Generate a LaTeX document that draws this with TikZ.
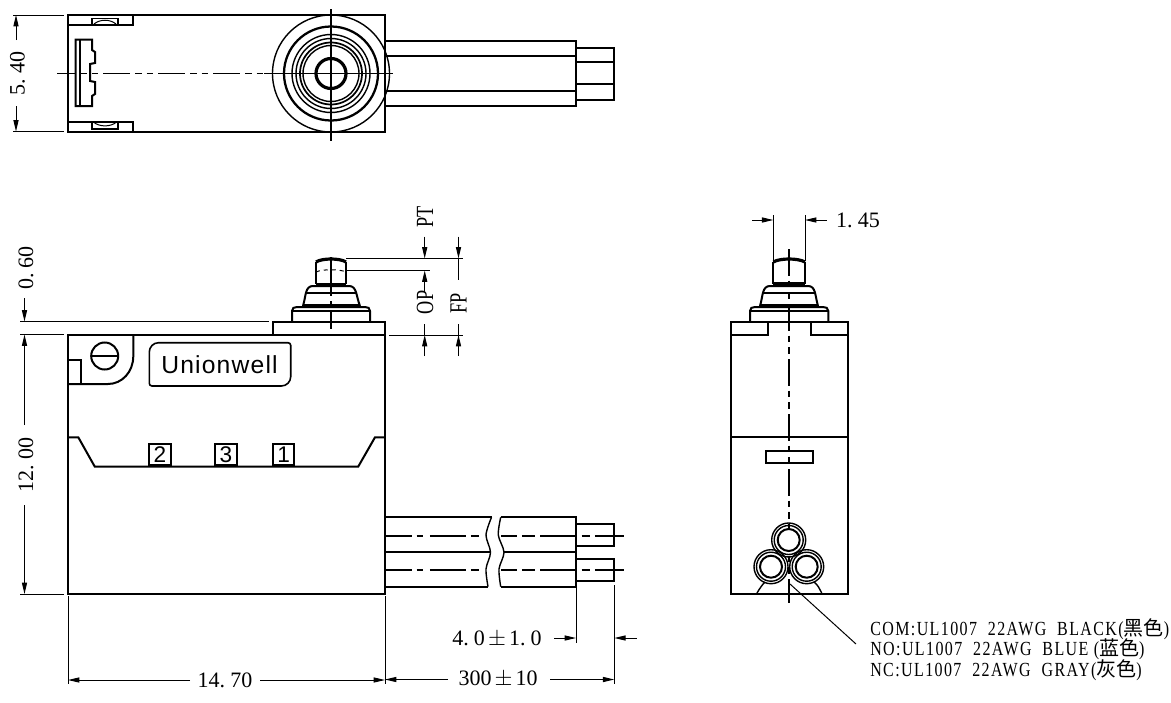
\documentclass[tikz,border=0pt]{standalone}
\usepackage{fontspec}
\usepackage{tikz}
\usetikzlibrary{arrows.meta}
\newfontfamily\dimfont{Liberation Serif}
\newfontfamily\narrowfont[FakeStretch=0.74]{Liberation Serif}
\newfontfamily\wirefont[FakeStretch=0.8,LetterSpace=7]{Liberation Serif}
\newfontfamily\logofont[LetterSpace=4.8]{Liberation Sans}
\setsansfont{Liberation Sans}
\newfontfamily\cjkfont{Noto Sans CJK SC}
\newcommand{\widepm}{\makebox[18pt]{$\pm$}}
\newcommand{\gapdot}{.\kern3.9pt}
\newcommand{\wirerow}[2]{#1{\cjkfont #2})}
\tikzset{
  part/.style={draw=black, line width=1.5pt},
  thinpart/.style={draw=black, line width=1.05pt},
  heavy/.style={draw=black, line width=2.4pt},
  dimline/.style={draw=black, line width=0.75pt},
  dimarrow/.style={dimline, -{Triangle[length=8.5pt,width=3.8pt]}},
  centerline/.style={draw=black, line width=1.35pt, dash pattern=on 20pt off 3.75pt on 5pt off 3.75pt on 5pt off 3.75pt},
  wireleft/.style={centerline, dash pattern=on 20pt off 3.7pt on 5pt off 5pt on 27pt off 3.7pt on 6pt off 20pt},
  wireright/.style={centerline, dash pattern=on 12pt off 3.7pt on 10pt off 3.7pt on 26pt off 5pt on 6pt off 4pt on 22pt off 20pt},
  dimtext/.style={inner sep=0pt, font=\fontsize{16.5}{16.5}\selectfont\dimfont},
  tagtext/.style={inner sep=0pt, font=\fontsize{18.5}{18.5}\selectfont\narrowfont},
  wiretext/.style={inner sep=0pt, anchor=west, font=\fontsize{15}{15}\selectfont\wirefont},
  numbox/.style={part, shape=rectangle, minimum size=16pt, inner sep=0pt, font=\fontsize{17}{17}\selectfont\sffamily}
}
\begin{document}
\begin{tikzpicture}[x=0.75pt,y=-0.75pt]
  \useasboundingbox (0,0) rectangle (1171,703);

  \draw[part] (68,15) rectangle (385,131.5);
  \draw[part] (68,25) -- (133,25) -- (133,15);
  \draw[part] (68,122) -- (133,122) -- (133,131.5);
  \draw[thinpart] (92,18.5) rectangle (118,24.5);
  \draw[thinpart] (92,122) rectangle (118,129);
  \draw[dimline] (94,24) .. controls (100,19) and (110,19) .. (116,24);
  \draw[dimline] (94,122.5) .. controls (100,127) and (110,127) .. (116,122.5);
  \draw[part] (75.5,39.5) -- (92,39.5) -- (92,50) -- (95,52) -- (95,63) -- (90,64) -- (90,81)
     -- (95,82) -- (95,94) -- (92,96) -- (92,106) -- (75.5,106) -- cycle;
  \draw[thinpart] (80,39.5) -- (80,106);
  \foreach \rad/\wd in {58.5/1.05pt, 47/1.7pt, 39/1.05pt, 35/1.05pt, 31/1.3pt, 28/1.05pt}
    \draw[draw=black,line width=\wd] (331,73.5) circle (\rad);
  \draw[heavy] (331,73.5) circle (15);
  \draw[centerline,dash phase=6.5pt] (57,73.5) -- (272,73.5);
  \draw[part,line width=1.3pt] (264,73.5) -- (393,73.5);
  \draw[part,line width=1.3pt] (331,9) -- (331,141);
  \draw[part] (385,40.7) -- (576,40.7) -- (576,105.7) -- (385,105.7);
  \draw[part] (385,55.7) -- (576,55.7);
  \draw[part] (385,90.7) -- (576,90.7);
  \draw[part] (576,47.7) -- (614,47.7) -- (614,99.7) -- (576,99.7);
  \draw[part] (576,61.7) -- (614,61.7);
  \draw[part] (576,84) -- (614,84);

  \draw[dimline] (13,15) -- (64,15);
  \draw[dimline] (13,131.5) -- (64,131.5);
  \draw[dimarrow] (16,40) -- (16,15);
  \draw[dimarrow] (16,106) -- (16,131.5);
  \path (17.5,73.5) node [dimtext,rotate=90] (dimwidth) {5\gapdot40};

  \draw[part] (68,334.5) rectangle (385,594);
  \draw[part] (272.7,334.5) -- (272.7,321.7) -- (385,321.7) -- (385,334.5);
  \draw[part] (292,321.7) -- (292,311) .. controls (292,308) and (294,307) .. (297,307)
     -- (365,307) .. controls (368,307) and (370,308) .. (370,311) -- (370,321.7);
  \draw[part] (292,311) -- (370,311);
  \draw[heavy] (303,306) -- (360,306);
  \draw[part] (303,306) .. controls (306,296) and (305,286) .. (313,286) -- (349,286)
     .. controls (357,286) and (356,296) .. (360,306);
  \draw[part] (306.7,293) -- (356.7,293);
  \draw[part] (316,262) -- (316,284);
  \draw[part] (346,262) -- (346,284);
  \draw[heavy] (316,284.5) -- (346,284.5);
  \draw[heavy] (316,262) .. controls (322,258) and (340,258) .. (346,262);
  \draw[dimline,dashed] (316,272) .. controls (322,269) and (340,269) .. (346,272);
  \draw[centerline,dash pattern=on 29pt off 4pt on 4.5pt off 4pt on 20pt] (331,257) -- (331,329);

  \draw[part] (133.3,334.5) -- (133.3,356) .. controls (133.3,372) and (122,384) .. (108,384) -- (68,384);
  \draw[part] (68,360) -- (81,360) -- (81,384);
  \draw[part] (104.7,356) circle (13.5);
  \draw[thinpart] (91.2,356) -- (118.2,356);
  \draw[part,line width=1.2pt] (149.3,365) [rounded corners=7pt] -- (149.3,342.7) [rounded corners=2pt] -- (290.7,342.7)
     [rounded corners=7pt] -- (290.7,386) [rounded corners=2pt] -- (149.3,386) -- (149.3,365);
  \path (219.5,364.5) node [inner sep=0pt,font=\fontsize{18.5}{18.5}\selectfont\logofont] (logo) {Unionwell};
  \draw[part] (68,437.3) -- (78.3,437.3) -- (94.7,466.5) -- (358.3,466.5) -- (375,437.3) -- (385,437.3);
  \path (160,454.7) node [numbox] (pintwo) {2}
        (226,454.7) node [numbox] (pinthree) {3}
        (283.7,454.7) node [numbox] (pinone) {1};

  \draw[part] (385,517.3) -- (491.5,517.3);
  \draw[part] (385,552.3) -- (490.5,552.3);
  \draw[part] (385,586.7) -- (488,586.7);
  \draw[part] (500.7,517.3) -- (576,517.3) -- (576,586.7) -- (500.7,586.7);
  \draw[part] (504,552.3) -- (576,552.3);
  \draw[thinpart] plot [smooth] coordinates {(491.5,517.3) (486,535) (490.5,552.3) (486,569) (488,586.7)};
  \draw[thinpart] plot [smooth] coordinates {(500.7,517.3) (498.3,535) (504,552.3) (499,569) (500.7,586.7)};
  \draw[part] (576,524.3) -- (614,524.3) -- (614,545.7) -- (576,545.7);
  \draw[part] (576,559) -- (614,559) -- (614,580.7) -- (576,580.7);
  \foreach \wirey in {535.7,569.7} {
    \draw[wireleft] (385,\wirey) -- (487,\wirey);
    \draw[wireright] (501,\wirey) -- (627,\wirey);
  }

  \draw[dimline] (20,321.5) -- (268.7,321.5);
  \draw[dimline] (20,334.5) -- (64,334.5);
  \draw[dimline] (20,594) -- (64,594);
  \draw[dimarrow] (24.5,298) -- (24.5,321.5);
  \draw[dimarrow] (24.5,425) -- (24.5,334.5);
  \draw[dimarrow] (24.5,505) -- (24.5,594);
  \path (26,268) node [dimtext,rotate=90] (dimtravel) {0\gapdot60}
        (26,465) node [dimtext,rotate=90] (dimheight) {12\gapdot00};

  \draw[dimline] (346,258.5) -- (462.7,258.5);
  \draw[dimline] (346,270.5) -- (430,270.5);
  \draw[dimline] (389,335) -- (462.7,335);
  \draw[dimarrow] (424.7,236.7) -- (424.7,258.5);
  \draw[dimarrow] (424.7,292) -- (424.7,270.5);
  \draw[dimarrow] (424.7,356) -- (424.7,335);
  \draw[dimline] (424.7,324) -- (424.7,335);
  \draw[dimarrow] (458.5,236.7) -- (458.5,258.5);
  \draw[dimline] (458.5,258.5) -- (458.5,280);
  \draw[dimarrow] (458.5,356) -- (458.5,335);
  \draw[dimline] (458.5,324) -- (458.5,335);
  \path (425,217) node [tagtext,rotate=90] (labelpt) {PT}
        (425,302.5) node [tagtext,rotate=90] (labelop) {OP}
        (458.5,303) node [tagtext,rotate=90] (labelfp) {FP};

  \draw[dimline] (68,596) -- (68,684);
  \draw[dimline] (385,596) -- (385,684);
  \draw[dimline] (576,588) -- (576,643);
  \draw[dimline] (614.3,585) -- (614.3,684);
  \draw[dimarrow] (190,680) -- (68,680);
  \draw[dimarrow] (260,680) -- (385,680);
  \draw[dimarrow] (448,679.5) -- (385,679.5);
  \draw[dimarrow] (550,679.5) -- (614.3,679.5);
  \draw[dimarrow] (554,638) -- (576,638);
  \draw[dimarrow] (636.7,638) -- (614.3,638);
  \path (225,680) node [dimtext] (dimlength) {14\gapdot70}
        (498,679.5) node [dimtext] (dimwire) {300\widepm10}
        (497,639) node [dimtext] (dimstrip) {4\gapdot0\widepm1\gapdot0};

  \draw[part] (730.7,321.7) rectangle (847.7,594);
  \draw[draw=white,line width=2pt] (767.7,334.5) rectangle (811,320);
  \draw[part] (730.7,335) -- (767.7,335) -- (767.7,321.7) -- (730.7,321.7);
  \draw[part] (847.7,335) -- (811,335) -- (811,321.7) -- (847.7,321.7);
  \draw[part] (730.7,437.3) -- (847.7,437.3);
  \draw[part] (750,321.7) -- (750,311) .. controls (750,308) and (752,307) .. (755,307)
     -- (823,307) .. controls (826,307) and (828.3,308) .. (828.3,311) -- (828.3,321.7);
  \draw[part] (750,311) -- (828.3,311);
  \draw[heavy] (760,306) -- (818,306);
  \draw[part] (760,306) .. controls (763,296) and (762,286) .. (770,286) -- (808,286)
     .. controls (816,286) and (815,296) .. (818,306);
  \draw[part] (764,293.3) -- (814,293.3);
  \draw[part] (773.3,262) -- (773.3,284);
  \draw[part] (805,262) -- (805,284);
  \draw[heavy] (773.3,284) -- (805,284);
  \draw[heavy] (773.3,262) .. controls (780,258) and (798,258) .. (805,262);
  \draw[part] (765.7,450.7) rectangle (813.3,463.3);
  \draw[centerline] (788.7,249) -- (788.7,603);
  \foreach \wirex/\wirey in {788.7/540, 771/566.7, 806.7/566.7} {
    \draw[draw=white,fill=white] (\wirex,\wirey) circle (11);
    \draw[part] (\wirex,\wirey) circle (11);
    \draw[thinpart] (\wirex,\wirey) circle (14.5);
    \draw[thinpart] (\wirex,\wirey) circle (17);
  }
  \draw[thinpart] (757,593) .. controls (760,588) and (762,585) .. (765,582);
  \draw[thinpart] (821.7,593) .. controls (819,588) and (818,585) .. (814,582);

  \draw[dimline] (773.3,215) -- (773.3,261);
  \draw[dimline] (805,215) -- (805,261);
  \draw[dimarrow] (752,220) -- (773.3,220);
  \draw[dimarrow] (826.7,220) -- (805,220);
  \path (858,220) node [dimtext] (dimplunger) {1\gapdot45};

  \coordinate (leaderstart) at (790,584);
  \coordinate (leaderend) at (856,644);
  \draw[dimline] (leaderstart) -- (leaderend);
  \path (870,629) node [wiretext] (wirecom) {\wirerow{COM:UL1007~~22AWG~~BLACK(}{黑色}}
        (870,649.5) node [wiretext] (wireno) {\wirerow{NO:UL1007~~22AWG~~BLUE~(}{蓝色}}
        (870,670) node [wiretext] (wirenc) {\wirerow{NC:UL1007~~22AWG~~GRAY(}{灰色}};
\end{tikzpicture}
\end{document}
